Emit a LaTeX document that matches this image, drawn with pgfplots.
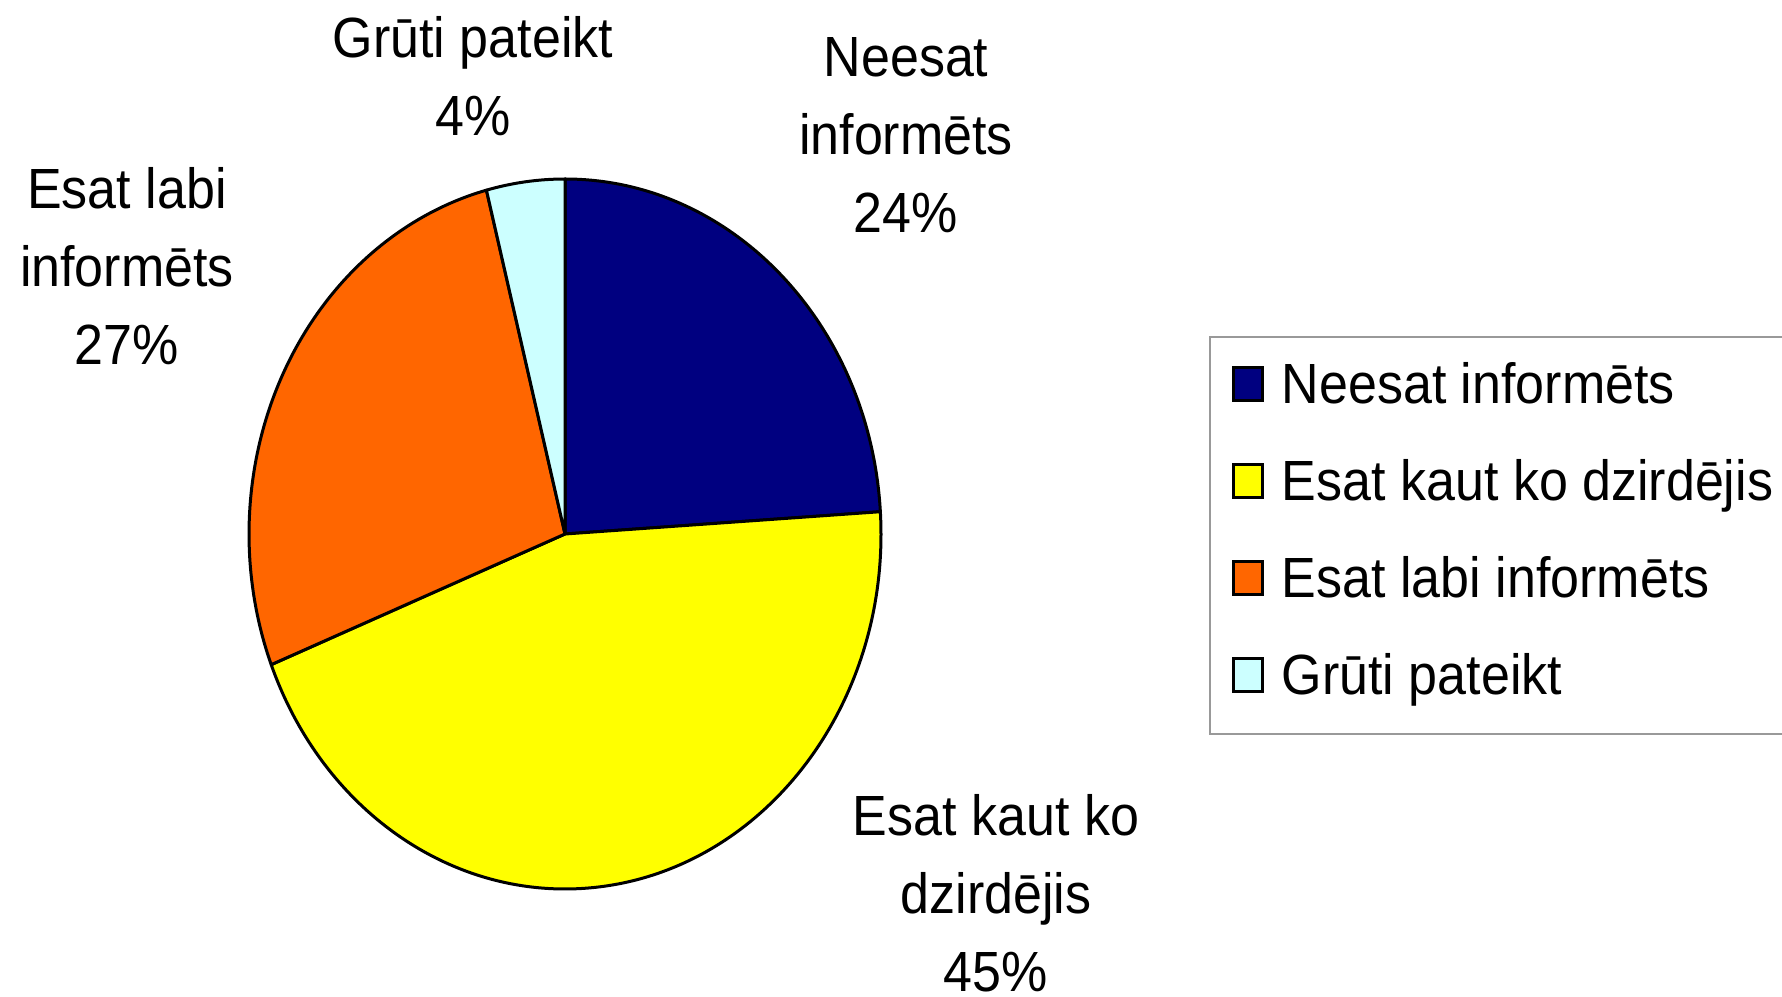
\documentclass[border=0pt]{standalone}
\usepackage{fontspec}
\setmainfont{Liberation Sans}
\usepackage{pgfplots}
\pgfplotsset{compat=1.18}
\usepackage{pgfplotstable}

\definecolor{cNav}{RGB}{0,0,128}
\definecolor{cYel}{RGB}{255,255,0}
\definecolor{cOra}{RGB}{255,102,0}
\definecolor{cCya}{RGB}{204,255,255}

% shares in percent, clockwise from 12 o'clock
\pgfplotstableread{
value
24
45
27
4
}\piedata

% one wedge of the (slightly elliptic) pie, centre (565,462) in axis units
\newcommand{\pieslice}[3]{%
  \filldraw[fill=#3,draw=black,line width=1.5pt,line join=round]
    (axis cs:565,462) -- (axis cs:{565+316*cos(#1)},{462+355*sin(#1)})
    arc[start angle=#1,end angle=#2,x radius=158pt,y radius=177.5pt] -- cycle;}
% text in the reference is a little taller than wide
\newcommand{\tx}[1]{\scalebox{1}[1.09]{#1}}

\begin{document}
\begin{tikzpicture}
\pgfplotstablegetelem{0}{value}\of\piedata \pgfmathsetmacro\vA{\pgfplotsretval}
\pgfplotstablegetelem{1}{value}\of\piedata \pgfmathsetmacro\vB{\pgfplotsretval}
\pgfplotstablegetelem{2}{value}\of\piedata \pgfmathsetmacro\vC{\pgfplotsretval}
\pgfplotstablegetelem{3}{value}\of\piedata \pgfmathsetmacro\vD{\pgfplotsretval}
\pgfmathsetmacro\aO{90}
\pgfmathsetmacro\aA{\aO-3.6*\vA}
\pgfmathsetmacro\aB{\aA-3.6*\vB}
\pgfmathsetmacro\aC{\aB-3.6*\vC}
\pgfmathsetmacro\aD{\aC-3.6*\vD}
\begin{axis}[
  scale only axis, width=891pt, height=498pt,
  xmin=0, xmax=1782, ymin=0, ymax=996,
  hide axis, clip=false,
  legend style={at={(axis cs:1209,660)}, anchor=north west,
    draw=gray!80, line width=0.8pt,
    font=\fontsize{26}{31}\selectfont,
    nodes={text height=20pt, text depth=6pt, inner sep=0pt, inner xsep=9pt},
    row sep=22.5pt, inner xsep=11pt, inner ysep=13.5pt},
  legend cell align=left,
  legend image code/.code={\draw[#1,draw=black,line width=1.5pt] (0pt,-5.5pt) rectangle (14.5pt,11pt);},
]
\addlegendimage{fill=cNav}\addlegendentry{\tx{Neesat informēts}}
\addlegendimage{fill=cYel}\addlegendentry{\tx{Esat kaut ko dzirdējis}}
\addlegendimage{fill=cOra}\addlegendentry{\tx{Esat labi informēts}}
\addlegendimage{fill=cCya}\addlegendentry{\tx{Grūti pateikt}}

\pieslice{\aO}{\aA}{cNav}
\pieslice{\aA}{\aB}{cYel}
\pieslice{\aB}{\aC}{cOra}
\pieslice{\aC}{\aD}{cCya}

% anchor=base is the baseline of the last line
\begin{scope}[every node/.style={font=\fontsize{26}{39}\selectfont, align=center, anchor=base}]
\node at (axis cs:906,763) {\tx{Neesat}\\\tx{informēts}\\\tx{24\%}};
\node at (axis cs:996,5) {\tx{Esat kaut ko}\\\tx{dzirdējis}\\\tx{45\%}};
\node at (axis cs:127,631) {\tx{Esat labi}\\\tx{informēts}\\\tx{27\%}};
\node at (axis cs:473,860) {\tx{Grūti pateikt}\\\tx{4\%}};
\end{scope}
\end{axis}
\pgfresetboundingbox
\path[use as bounding box] (current axis.south west) rectangle (current axis.north east);
\end{tikzpicture}
\end{document}
